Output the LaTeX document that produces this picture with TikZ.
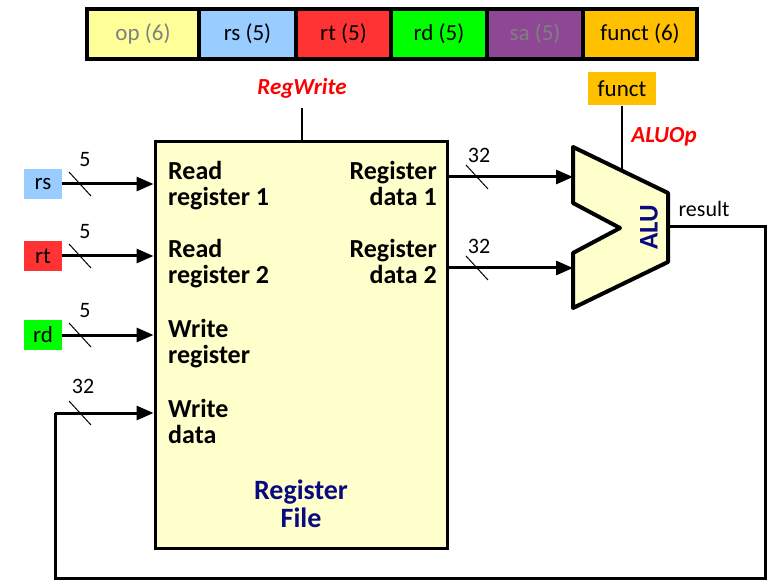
\documentclass[tikz,border=0pt]{standalone}
\usepackage{fontspec}
\setmainfont{Carlito}
\usetikzlibrary{arrows.meta,calc,positioning}

\definecolor{opyellow}{HTML}{FFFF99}
\definecolor{rsblue}{HTML}{99CCFF}
\definecolor{rtred}{HTML}{FF3333}
\definecolor{rdgreen}{HTML}{00FF00}
\definecolor{sapurple}{HTML}{8E4794}
\definecolor{functorange}{HTML}{FFC000}
\definecolor{unitfill}{HTML}{FFFFCC}
\definecolor{unitnavy}{HTML}{0A0A80}
\definecolor{dimgray}{HTML}{808080}

\tikzset{
  field/.style={draw=black, line width=2pt, minimum height=48pt, inner sep=0pt,
    font=\fontsize{23}{26}\selectfont},
  tag/.style={inner sep=0pt, minimum height=30pt, minimum width=38pt,
    font=\fontsize{23}{26}\selectfont},
  port/.style={inner sep=0pt, font=\fontsize{26}{26}\selectfont\bfseries},
  unitname/.style={inner sep=0pt, text=unitnavy, font=\fontsize{28}{28}\selectfont\bfseries},
  ctrl/.style={text=red, inner sep=0pt, font=\fontsize{23}{26}\selectfont\bfseries\itshape},
  width/.style={inner sep=0pt, font=\fontsize{22}{24}\selectfont},
  bus/.style={line width=3pt, -{Triangle[length=17pt,width=14pt]}},
  wire/.style={line width=3pt},
  slash/.style={line width=1pt},
}

\begin{document}
\begin{tikzpicture}[x=1pt,y=-1pt]
    \useasboundingbox (0,0) rectangle (774,588);
    % instruction fields
    \node[field, fill=opyellow, text=dimgray, minimum width=110pt] (op) at (143,34) {op (6)};
    \node[field, fill=rsblue, minimum width=95pt, right=0pt of op] (frs) {rs (5)};
    \node[field, fill=rtred, minimum width=93pt, right=0pt of frs] (frt) {rt (5)};
    \node[field, fill=rdgreen, minimum width=94pt, right=0pt of frt] (frd) {rd (5)};
    \node[field, fill=sapurple, text=dimgray, minimum width=94pt, right=0pt of frd] (fsa) {sa (5)};
    \node[field, fill=functorange, minimum width=112pt, right=0pt of fsa] (ffunct) {funct (6)};
    \draw[line width=3.5pt] (op.north west) rectangle (ffunct.south east);
    % register file
    \node[draw, line width=3pt, fill=unitfill, minimum width=292pt, minimum height=406pt,
      inner sep=0pt] (rf) at (301,345) {};
    \node[port, align=left, anchor=north west] (rr1) at (168,161) {Read\\register 1};
    \node[port, align=left, anchor=north west] (rr2) at (168,239) {Read\\register 2};
    \node[port, align=left, anchor=north west] (wr) at (168,319) {Write\\register};
    \node[port, align=left, anchor=north west] (wd) at (168,399) {Write\\data};
    \node[port, align=right, anchor=north east] (rd1) at (437,161) {Register\\data 1};
    \node[port, align=right, anchor=north east] (rd2) at (437,239) {Register\\data 2};
    \node[unitname, align=center] (rfname) at (301,504) {Register\\File};
    \node[ctrl] (regwrite) at (302,88) {RegWrite};
    \draw[line width=1.5pt] (regwrite.south |- 0,108) -- (regwrite.south |- rf.north);
    % register inputs
    \foreach \r/\y/\c in {rs/184/rsblue, rt/256/rtred, rd/335/rdgreen} {
      \node[tag, fill=\c] (\r) at (43,\y) {\r};
      \coordinate (\r in) at (rf.west |- \r);
      \draw[bus] (\r) -- (\r in);
      \draw[slash] (69,\y-12) -- (91,\y+12);
      \node[width] (\r w) at (85,\y-24) {5};
    }
    % ALU
    \draw[line width=4pt, line join=round, fill=unitfill]
      (573,147) coordinate (a1) -- (668,193) coordinate (a2) -- (668,262) coordinate (a3)
      -- (573,308) coordinate (a4) -- (573,253) coordinate (a5) -- (620,228) coordinate (a6)
      -- (573,203) coordinate (a7) -- cycle;
    \node[unitname, rotate=90, font=\fontsize{27}{28}\selectfont\bfseries] (alu) at (649,227) {ALU};
    \node[fill=functorange, minimum width=68pt, minimum height=33pt, inner sep=0pt,
      font=\fontsize{23}{26}\selectfont] (funct) at (622,89) {funct};
    \coordinate (aluop in) at (622,170);
    \draw[line width=1.5pt] (funct) -- (aluop in);
    \node[ctrl] (aluop) at (664,137) {ALUOp};
    % register outputs
    \foreach \o/\y in {1/177, 2/268} {
      \coordinate (out\o) at (rf.east |- 0,\y);
      \coordinate (alu in\o) at (573,\y);
      \draw[bus] (out\o) -- (alu in\o);
      \draw[slash] (466,\y-12) -- (488,\y+12);
      \node[width] (w out\o) at (479,\y-22) {32};
    }
    % result feedback
    \coordinate (alu out) at (668,227);
    \node[width] (result) at (704,209) {result};
    \coordinate (wd in) at (rf.west |- 0,413);
    \draw[wire] (alu out) -- (765,227) -- (765,578) -- (55,578) -- (55,413) coordinate (loop);
    \draw[bus] (loop) -- (wd in);
    \draw[slash] (69,401) -- (91,425);
    \node[width] (wd w) at (83,386) {32};
\end{tikzpicture}
\end{document}
